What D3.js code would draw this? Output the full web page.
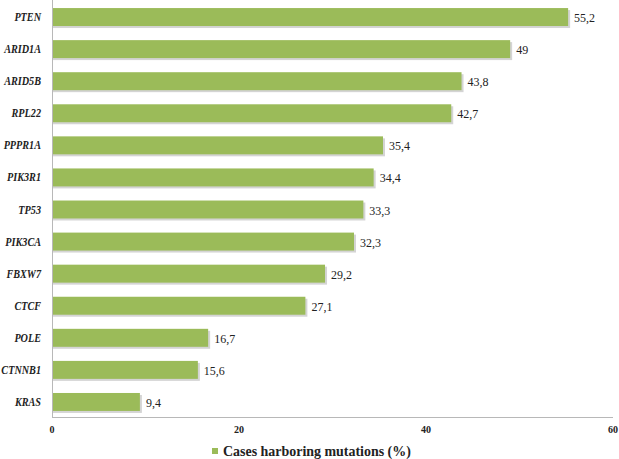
<!DOCTYPE html>
<html><head><meta charset="utf-8">
<script src="https://cdn.jsdelivr.net/npm/d3@7"></script>
<style>body{margin:0;background:#fff}svg{display:block}</style>
</head><body><svg id="c" width="619" height="459"></svg>
<script>
const genes = ["PTEN","ARID1A","ARID5B","RPL22","PPPR1A","PIK3R1","TP53","PIK3CA","FBXW7","CTCF","POLE","CTNNB1","KRAS"];
const values = [55.2,49,43.8,42.7,35.4,34.4,33.3,32.3,29.2,27.1,16.7,15.6,9.4];
const labels = ["55,2","49","43,8","42,7","35,4","34,4","33,3","32,3","29,2","27,1","16,7","15,6","9,4"];
const ticks = [0,20,40,60];
const legendLabel = "Cases harboring mutations (%)";

const svg = d3.select("#c");
const x = d3.scaleLinear().domain([0,60]).range([52,613]);
const y = d3.scaleBand().domain(genes).range([1,418]).paddingInner(0.44).paddingOuter(0.22);
const serif = "'Liberation Serif','Times New Roman',serif";

// shadows
svg.append("g").selectAll("rect").data(genes).join("rect")
  .attr("x", x(0)+1).attr("y", d=>y(d)+2)
  .attr("width", (d,i)=>x(values[i])-x(0)+1).attr("height", y.bandwidth())
  .attr("fill","#d4d4d4");
svg.append("g").selectAll("rect").data(genes).join("rect")
  .attr("x", x(0)).attr("y", d=>y(d))
  .attr("width", (d,i)=>x(values[i])-x(0)).attr("height", y.bandwidth())
  .attr("fill","#9bbb59");

// axes lines
svg.append("line").attr("x1",x(0)+0.5).attr("x2",x(0)+0.5).attr("y1",0).attr("y2",418).attr("stroke","#b8b8b8");
svg.append("line").attr("x1",x(0)).attr("x2",x(60)).attr("y1",417.5).attr("y2",417.5).attr("stroke","#b8b8b8");

// x ticks
svg.append("g").selectAll("text").data(ticks).join("text")
  .attr("x", d=>x(d)).attr("y",433).attr("text-anchor","middle")
  .attr("font-family",serif).attr("font-weight","bold").attr("font-size",10).attr("fill","#222")
  .text(d=>d);

// category labels (horizontally condensed like the original)
svg.append("g").selectAll("text").data(genes).join("text")
  .attr("transform", d=>`translate(41,${y(d)+y.bandwidth()/2+4}) scale(0.85,1)`)
  .attr("text-anchor","end")
  .attr("font-family",serif).attr("font-weight","bold").attr("font-style","italic").attr("font-size",12).attr("fill","#222")
  .text(d=>d);

// value labels
svg.append("g").selectAll("text").data(genes).join("text")
  .attr("x",(d,i)=>x(values[i])+6).attr("y", d=>y(d)+y.bandwidth()/2+5)
  .attr("font-family",serif).attr("font-size",12).attr("fill","#222")
  .text((d,i)=>labels[i]);

// legend
svg.append("rect").attr("x",212).attr("y",448).attr("width",6).attr("height",6).attr("fill","#9bbb59");
svg.append("text").attr("transform","translate(223,456) scale(0.9,1)")
  .attr("font-family",serif).attr("font-weight","bold").attr("font-size",15.5).attr("fill","#222").text(legendLabel);
</script></body></html>
